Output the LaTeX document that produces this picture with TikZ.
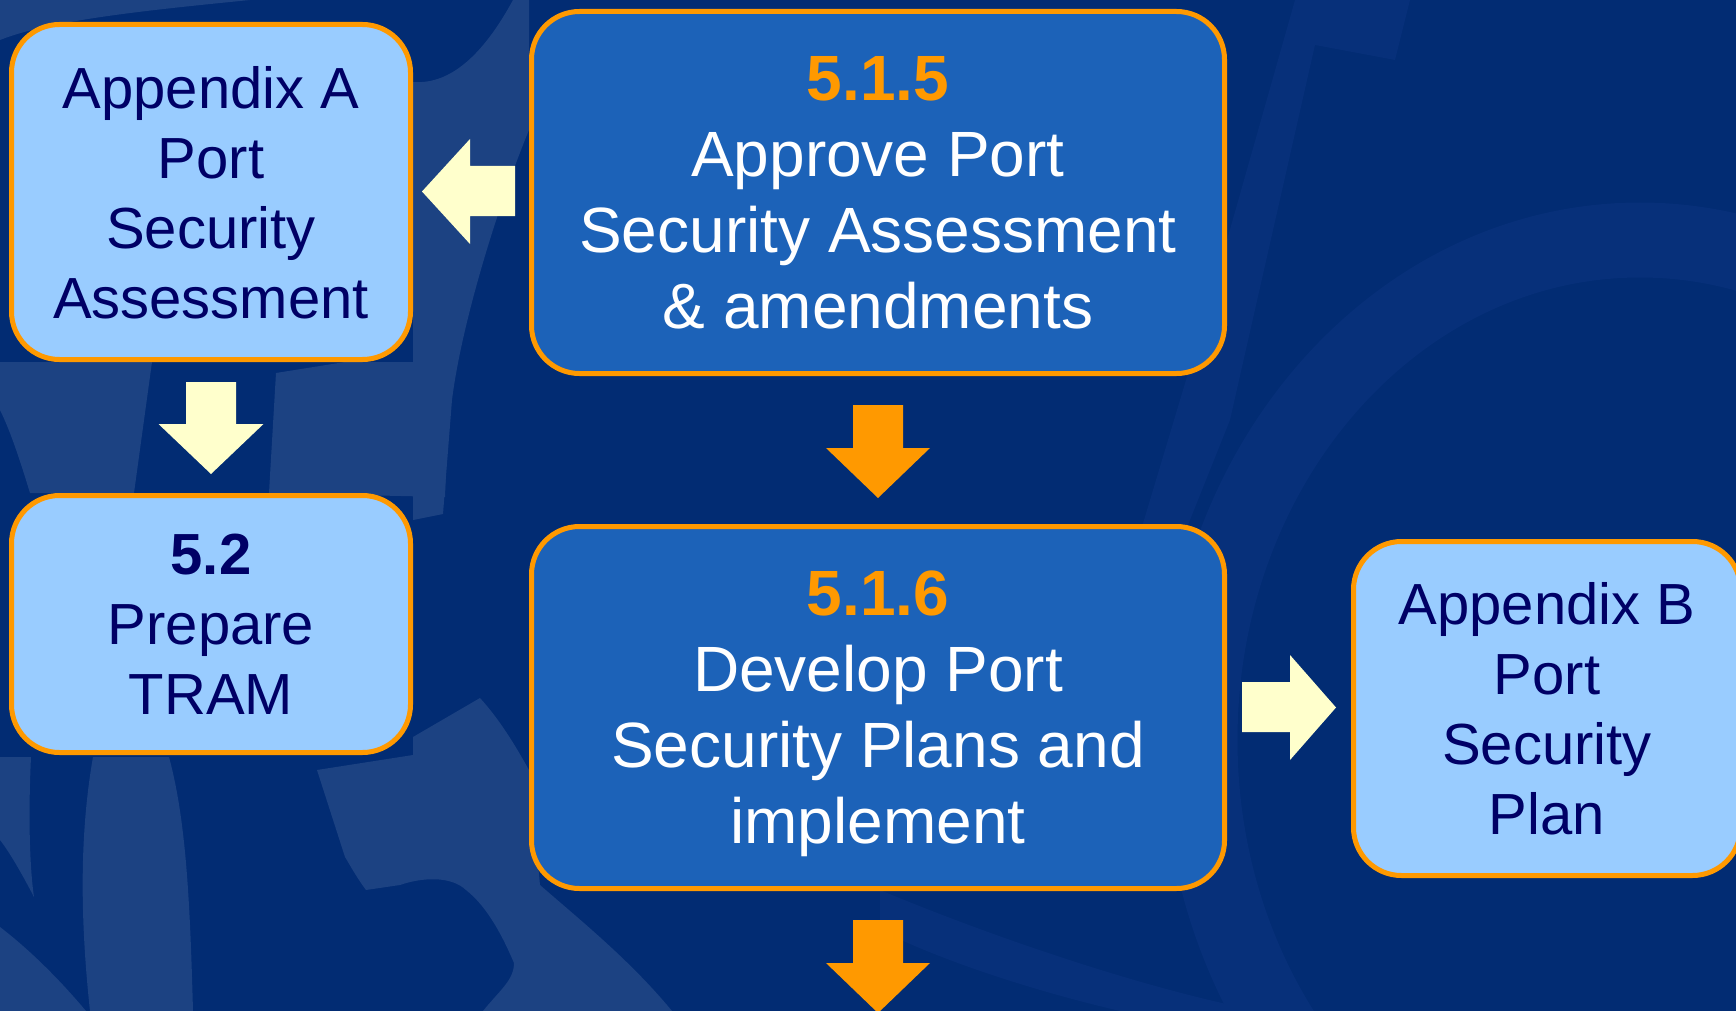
\documentclass[tikz,border=0pt]{standalone}
\usepackage{fontspec}
\setmainfont{Liberation Sans}
\definecolor{cBg}{HTML}{022C73}
\definecolor{cBgLight}{HTML}{1C4282}
\definecolor{cBgFaint}{HTML}{07307A}
\definecolor{cLight}{HTML}{99CCFF}
\definecolor{cDark}{HTML}{1C62B8}
\definecolor{cOrange}{HTML}{FF9900}
\definecolor{cNavy}{HTML}{000066}
\definecolor{cCream}{HTML}{FFFFCC}
\begin{document}
\begin{tikzpicture}[x=0.5pt,y=-0.5pt,
  box/.style={draw=cOrange, line width=2.5pt, rounded corners=24pt, align=center, inner sep=0pt, text depth=0pt},
  lightbox/.style={box, fill=cLight, text=cNavy, font=\fontsize{29}{35}\selectfont},
  darkbox/.style={box, fill=cDark, text=white, font=\fontsize{32}{38}\selectfont},
  creamarrow/.style={fill=cCream},
  orangearrow/.style={fill=cOrange}]
\useasboundingbox (0,0) rectangle (1736,1011);
% background
\begin{scope}
\clip (0,0) rectangle (1736,1011);
\fill[cBg] (0,0) rectangle (1736,1011);
\draw[cBgFaint, line width=37.5pt] (1640,740) ellipse [x radius=440, y radius=500];
\fill[cBgFaint] (1295,0) -- (1410,0) -- (1395,60) -- (1315,45) -- (1230,420) -- (1150,620) -- (1120,600) -- (1210,300) -- cycle;
\fill[cBgFaint] (880,890) .. controls (1000,940) and (1150,990) .. (1260,1011) -- (1120,1011) .. controls (1030,990) and (940,960) .. (880,930) -- cycle;
% lighter swirls on the left
\fill[cBgLight] (0,0) -- (250,0) .. controls (150,10) and (50,20) .. (0,40) -- cycle;
\fill[cBgLight] (413,82) .. controls (440,84) and (475,70) .. (513,0) -- (529,0) -- (529,130)
  .. controls (500,200) and (462,320) .. (452,400) -- (443,514) -- (413,520) -- cycle;
\fill[cBgLight] (276,373) -- (345,362) -- (450,362) -- (445,497) -- (269,493) -- cycle;
\fill[cBgLight] (0,362) -- (152,362) -- (134,493) -- (30,493) .. controls (20,460) and (10,430) .. (0,410) -- cycle;
\fill[cBgLight] (0,757) -- (31,757) .. controls (28,820) and (30,870) .. (34,897) .. controls (20,870) and (8,850) .. (0,840) -- cycle;
\fill[cBgLight] (0,927) .. controls (30,950) and (60,980) .. (86,1011) -- (0,1011) -- cycle;
\fill[cBgLight] (93,757) .. controls (82,820) and (78,900) .. (90,1011) -- (193,1011) .. controls (190,900) and (186,820) .. (169,757) -- cycle;
\fill[cBgLight] (317,770) -- (413,755) -- (413,737) -- (480,698) .. controls (500,720) and (515,745) .. (529,770) -- (540,885)
  .. controls (580,920) and (630,960) .. (672,1011) -- (483,1011)
  .. controls (500,990) and (514,980) .. (514,963) .. controls (500,930) and (485,905) .. (466,890)
  .. controls (450,875) and (420,878) .. (400,885) -- (366,890) .. controls (355,875) and (350,865) .. (345,857) -- cycle;
\end{scope}
% boxes
\node[lightbox, minimum width=199.5pt, minimum height=167.5pt] (appA) at (211,192)
  {Appendix A\\Port\\Security\\Assessment};
\node[lightbox, minimum width=199.5pt, minimum height=128.5pt] (tram) at (211,624)
  {{\bfseries 5.2}\\Prepare\\TRAM};
\node[darkbox, minimum width=346.5pt, minimum height=181pt] (approve) at (878,192.5)
  {{\bfseries\color{cOrange}5.1.5}\\Approve Port\\Security Assessment\\\& amendments};
\node[darkbox, minimum width=346.5pt, minimum height=181pt] (develop) at (878,707.5)
  {{\bfseries\color{cOrange}5.1.6}\\Develop Port\\Security Plans and\\implement};
\node[lightbox, minimum width=193.5pt, minimum height=167pt] (appB) at (1547,708.5)
  {Appendix B\\Port\\Security\\Plan};
% block arrows
\fill[creamarrow] (422,191.5) -- (470,139) -- (470,166) -- (515,166) -- (515,216) -- (470,216) -- (470,244) -- cycle;
\fill[creamarrow] (211,474) -- (158.5,424) -- (186,424) -- (186,382) -- (236,382) -- (236,424) -- (263.5,424) -- cycle;
\fill[orangearrow] (878,498) -- (826,448) -- (853,448) -- (853,405) -- (903,405) -- (903,448) -- (930,448) -- cycle;
\fill[creamarrow] (1336,707.5) -- (1290,655) -- (1290,682) -- (1242,682) -- (1242,732) -- (1290,732) -- (1290,760) -- cycle;
\fill[orangearrow] (878,1013) -- (826,963) -- (853,963) -- (853,920) -- (903,920) -- (903,963) -- (930,963) -- cycle;
\end{tikzpicture}
\end{document}
